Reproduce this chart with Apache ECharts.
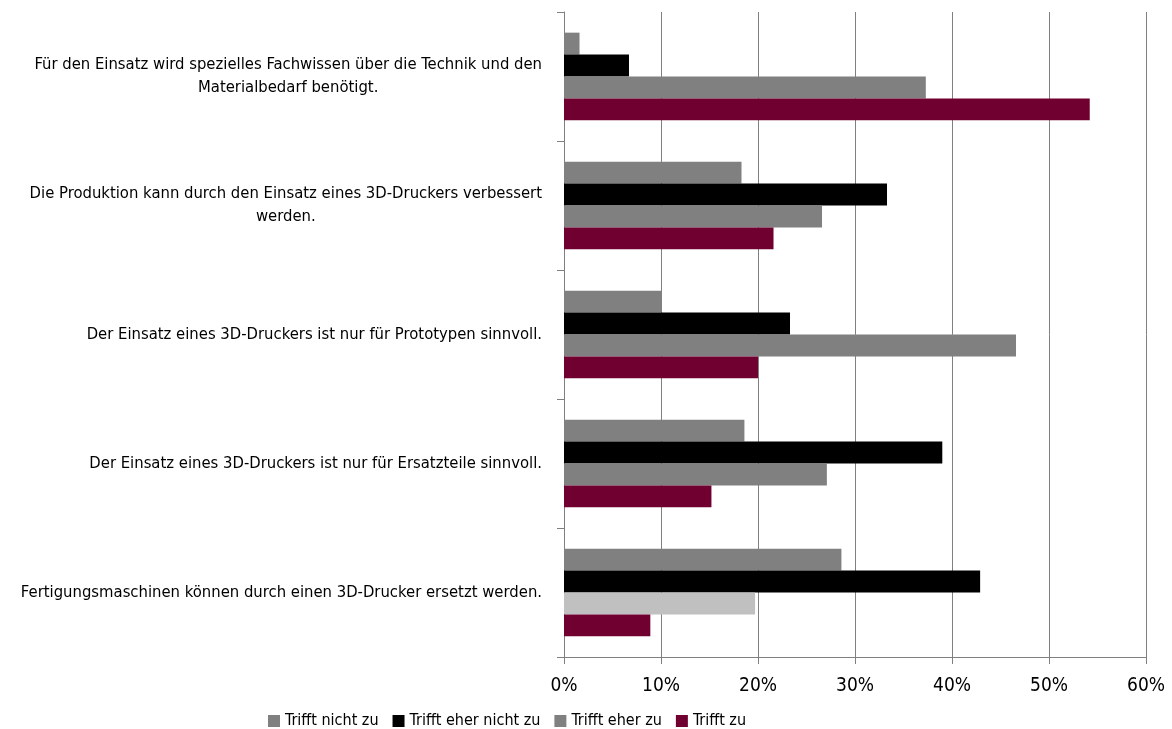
<!DOCTYPE html>
<html>
<head>
<meta charset="utf-8">
<script src="https://cdn.jsdelivr.net/npm/echarts@6/dist/echarts.min.js"></script>
<style>
  html, body { margin: 0; padding: 0; background: #fff; }
  #main { width: 1172px; height: 729px; }
</style>
</head>
<body>
<div id="main"></div>
<script>
// Aussagen (von oben nach unten)
var categories = [
  'Für den Einsatz wird spezielles Fachwissen über die Technik und den\nMaterialbedarf benötigt.',
  'Die Produktion kann durch den Einsatz eines 3D-Druckers verbessert\nwerden.',
  'Der Einsatz eines 3D-Druckers ist nur für Prototypen sinnvoll.',
  'Der Einsatz eines 3D-Druckers ist nur für Ersatzteile sinnvoll.',
  'Fertigungsmaschinen können durch einen 3D-Drucker ersetzt werden.'
];
var seriesNames = ['Trifft nicht zu', 'Trifft eher nicht zu', 'Trifft eher zu', 'Trifft zu'];
var seriesColors = ['#808080', '#000000', '#808080', '#700030'];
// Anteile in %
var trifftNicht = [1.6, 18.3, 10.0, 18.6, 28.6];
var trifftEherNicht = [6.7, 33.3, 23.3, 39.0, 42.9];
var trifftEher = [37.3, 26.6, 46.6, 27.1, 19.7];
var trifftZu = [54.2, 21.6, 20.0, 15.2, 8.9];
var xTicks = [0, 10, 20, 30, 40, 50, 60];

var font = "'Liberation Sans Narrow', 'DejaVu Sans Condensed', sans-serif";
var allValues = [trifftNicht, trifftEherNicht, trifftEher, trifftZu];

var chart = echarts.init(document.getElementById('main'));

var series = allValues.map(function (vals, i) {
  return {
    name: seriesNames[i],
    type: 'bar',
    barGap: '0%',
    barCategoryGap: '32%',
    itemStyle: { color: seriesColors[i] },
    data: vals.map(function (v, j) {
      // letzter Balken "Trifft eher zu" ist hellgrau eingefärbt
      if (i == 2 && j == vals.length - 1) {
        return { value: v, itemStyle: { color: '#c0c0c0' } };
      }
      return v;
    })
  };
});

chart.setOption({
  animation: false,
  textStyle: { fontFamily: font, color: '#000' },
  grid: { left: 564, right: 26, top: 12, bottom: 72, containLabel: false },
  legend: {
    data: seriesNames,
    left: 263,
    top: 708,
    itemWidth: 12,
    itemHeight: 12,
    itemGap: 14,
    icon: 'rect',
    textStyle: { fontFamily: font, fontSize: 16, color: '#000' }
  },
  xAxis: {
    type: 'value',
    min: xTicks[0],
    max: xTicks[xTicks.length - 1],
    interval: 10,
    axisLine: { show: true, lineStyle: { color: '#808080', width: 1 } },
    axisTick: { show: true, length: 7, lineStyle: { color: '#808080' } },
    splitLine: { show: true, lineStyle: { color: '#808080', width: 1 } },
    axisLabel: {
      margin: 20,
      fontSize: 19,
      fontFamily: font,
      color: '#000',
      formatter: '{value}%'
    }
  },
  yAxis: {
    type: 'category',
    inverse: true,
    data: categories,
    axisLine: { show: true, lineStyle: { color: '#808080', width: 1 } },
    axisTick: { show: true, length: 7, lineStyle: { color: '#808080' } },
    axisLabel: {
      margin: 22,
      fontSize: 16.5,
      fontFamily: font,
      color: '#000',
      lineHeight: 23,
      formatter: function (v) {
        return v.split('\n').map(function (l) { return '{c|' + l + '}'; }).join('\n');
      },
      rich: {
        c: { align: 'center', fontSize: 16.5, fontFamily: font, color: '#000', lineHeight: 23 }
      }
    }
  },
  series: series
});
</script>
</body>
</html>
